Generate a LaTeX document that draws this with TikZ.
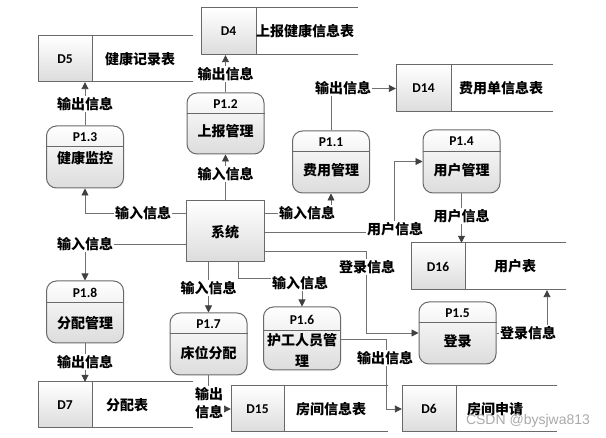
\documentclass[tikz,border=0pt]{standalone}
\usepackage{fontspec}
\setmainfont{Carlito}
\newfontfamily\cjk{Noto Sans CJK SC}
\newfontfamily\wmfont{Liberation Sans}
\usetikzlibrary{arrows.meta,fit}
\definecolor{linegray}{RGB}{112,112,112}
\definecolor{tipgray}{RGB}{64,64,64}
\definecolor{boxline}{RGB}{105,105,105}
\definecolor{shadebot}{RGB}{220,220,220}
\definecolor{wmgray}{RGB}{170,170,170}

\newcommand\proc[8]{% name, cx, top, bottom, header h, header text, body y, body text
  \node[procbox, fit={(#2-38.5,#3) (#2+38.5,#4)}] (#1) {};
  \draw[boxln] ([yshift=-#5pt]#1.north west) -- ([yshift=-#5pt]#1.north east);
  \node[idtext] (#1h) at (#2,{#3+#5/2+0.5}) {#6};
  \node[ctext] (#1b) at (#2,#7) {#8};
}
\newcommand\store[9]{% name, left, top, right, bottom, divider, id, text, text x
  \shade[top color=white, bottom color=shadebot] (#2,#3) rectangle (#6,#5);
  \draw[boxln] (#4,#3) -- (#2,#3) -- (#2,#5) -- (#4,#5);
  \draw[boxln] (#6,#3) -- (#6,#5);
  \node[fit={(#2,#3) (#4,#5)}, inner sep=0pt] (#1) {};
  \node[idtext] (#1id) at ({(#2+#6)/2},{(#3+#5)/2}) {#7};
  \node[ctext] (#1t) at (#9,{(#3+#5)/2}) {#8};
}

\begin{document}
\begin{tikzpicture}[x=1pt,y=-1pt,
  boxln/.style={draw=boxline, line width=1pt},
  procbox/.style={boxln, rounded corners=10pt, inner sep=0pt, top color=white, bottom color=shadebot},
  sysbox/.style={boxln, inner sep=0pt, top color=white, bottom color=shadebot},
  idtext/.style={inner sep=0pt, font=\bfseries\fontsize{13.5}{16}\selectfont},
  ctext/.style={inner sep=0pt, align=center, font=\cjk\bfseries\fontsize{14}{21}\selectfont},
  lbl/.style={fill=white, inner sep=1pt, align=center, font=\cjk\bfseries\fontsize{14}{18}\selectfont},
  lin/.style={draw=linegray, line width=0.9pt},
  arr/.style={lin, -{Triangle[length=7pt,width=7pt,color=tipgray]}}
]
\fill[white] (0,0) rectangle (606,438);
\useasboundingbox (0,0) rectangle (606,438);

% data stores
\store{D5}{38}{36}{193}{82}{92}{D5}{健康记录表}{140}
\store{D4}{201}{8}{358}{55}{256}{D4}{上报健康信息表}{305}
\store{D14}{396}{65}{553}{112}{451}{D14}{费用单信息表}{501}
\store{D16}{411}{243}{566}{290}{465}{D16}{用户表}{515}
\store{D7}{38}{382}{193}{428}{92}{D7}{分配表}{127}
\store{D15}{231}{386}{388}{432}{284}{D15}{房间信息表}{331}
\store{D6}{402}{386}{557}{432}{456}{D6}{房间申请}{495}

% processes
\proc{P13}{85}{126}{188}{21}{P1.3}{158}{健康监控}
\proc{P12}{225.5}{93}{154}{21}{P1.2}{131}{上报管理}
\proc{P11}{331}{131}{193}{21}{P1.1}{170}{费用管理}
\proc{P14}{461.5}{130}{193}{22}{P1.4}{170}{用户管理}
\proc{P18}{85}{281}{343}{22}{P1.8}{323}{分配管理}
\proc{P17}{208.5}{313}{375}{21}{P1.7}{353}{床位分配}
\proc{P16}{302}{307}{370}{24}{P1.6}{350.5}{护工人员管\\理}
\proc{P15}{457.5}{302}{364}{21}{P1.5}{341}{登录}

% system
\node[sysbox, fit={(186,201) (264,262)}] (sys) {};
\node[ctext] (syst) at (225,232) {系统};

% helper coordinates
\coordinate (k5) at (0,213);
\coordinate (k6) at (0,244);
\coordinate (k8) at (394,232);
\coordinate (k10) at (366,251);
\coordinate (k11) at (547,0);
\coordinate (k13) at (238,278);
\coordinate (k14) at (386,339);

% connectors
\draw[arr] (P13.north) -- (P13.north |- D5.south);
\draw[arr] (P12.north) -- (P12.north |- D4.south);
\draw[arr] (P11.north) |- (D14.west);
\draw[arr] (P12.south |- sys.north) -- (P12.south);
\draw[arr] (sys.west |- k5) -| (P13.south);
\draw[arr] (sys.west |- k6) -| (P18.north);
\draw[arr] (sys.east |- k5) -| (P11.south);
\draw[arr] (sys.east |- k8) -- (k8) |- (P14.west);
\draw[arr] (P14.south) -- (P14.south |- D16.north);
\draw[arr] (sys.east |- k10) -- (k10) |- (P15.west);
\draw[arr] (P15.east) -| (D16.south -| k11);
\draw[arr] (sys.south -| P17.north) -- (P17.north);
\draw[arr] (sys.south -| k13) |- (P16.north |- k13) -- (P16.north);
\draw[arr] (P16.east |- k14) -- (k14) |- (D6.west);
\draw[arr] (P18.south) -- (P18.south |- D7.north);
\draw[arr] (P17.south) |- (D15.west);

% labels
\node[lbl] (l1) at (85,104) {输出信息};
\node[lbl] (l2) at (225.5,74) {输出信息};
\node[lbl] (l3) at (343,88) {输出信息};
\node[lbl] (l4) at (225.5,174) {输入信息};
\node[lbl] (l5) at (143,213) {输入信息};
\node[lbl] (l6) at (85,244) {输入信息};
\node[lbl] (l7) at (307,213) {输入信息};
\node[lbl] (l8) at (395,229) {用户信息};
\node[lbl] (l9) at (461.5,216) {用户信息};
\node[lbl] (l10) at (367,267) {登录信息};
\node[lbl] (l11) at (528,333) {登录信息};
\node[lbl] (l12) at (208.5,288) {输入信息};
\node[lbl] (l13) at (300,283) {输入信息};
\node[lbl] (l14) at (385,358) {输出信息};
\node[lbl] (l15) at (85,362) {输出信息};
\node[lbl] (l16) at (209,403) {输出\\信息};

% watermark
\node[inner sep=0pt, text=wmgray, font=\wmfont\fontsize{14}{16}\selectfont] (wm) at (528,421) {CSDN @bysjwa813};
\end{tikzpicture}
\end{document}
